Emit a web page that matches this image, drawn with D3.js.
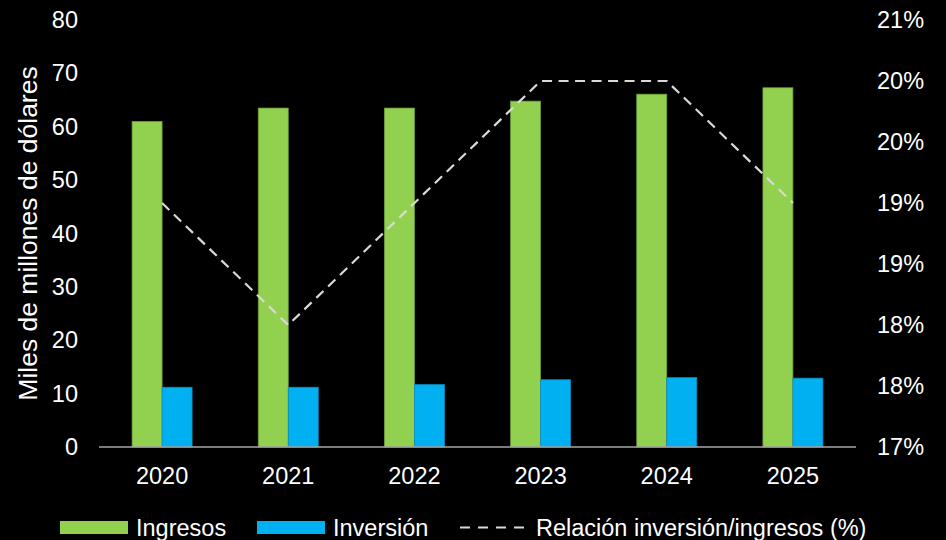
<!DOCTYPE html>
<html>
<head>
<meta charset="utf-8">
<script src="https://cdn.jsdelivr.net/npm/d3@7"></script>
<style>
  html, body { margin: 0; padding: 0; background: #000; }
  svg { display: block; }
  text { font-family: "Liberation Sans", Arial, sans-serif; fill: #fff; }
</style>
</head>
<body>
<svg id="chart" width="946" height="540"></svg>
<script>
// Annual figures, billions of dollars
const years = ["2020", "2021", "2022", "2023", "2024", "2025"];
const ingresos = [61.0, 63.5, 63.5, 64.8, 66.1, 67.3];
const inversion = [11.2, 11.2, 11.7, 12.6, 13.0, 12.9];
// Investment / revenue ratio, percent
const relacion = [19.0, 18.0, 19.0, 20.0, 20.0, 19.0];

const leftTicks = [0, 10, 20, 30, 40, 50, 60, 70, 80];
const rightTicks = [17, 17.5, 18, 18.5, 19, 19.5, 20, 20.5];

const seriesNames = ["Ingresos", "Inversión"];
const lineName = "Relación inversión/ingresos (%)";
const yTitle = "Miles de millones de dólares";

const colors = { Ingresos: "#92D050", "Inversión": "#00B0F0" };
const borders = { Ingresos: "#6E9F3A", "Inversión": "#0A8CC0" };

const svg = d3.select("#chart");
const plot = { left: 99, right: 856, top: 20, bottom: 447 };
const fs = 23.5;
const titleFs = 26.5;
const font = "Liberation Sans, Arial, sans-serif";

const x = d3.scaleBand().domain(years).range([plot.left, plot.right]).padding(0);
const groupW = 60;
const xs = d3.scaleBand().domain(seriesNames).range([0, groupW]).padding(0);
const yL = d3.scaleLinear().domain([0, 80]).range([plot.bottom, plot.top]);
const yR = d3.scaleLinear().domain([17, 20.5]).range([plot.bottom, plot.top]);

// Bars
const rows = years.map((yr, i) => ({ year: yr, Ingresos: ingresos[i], "Inversión": inversion[i] }));
const groups = svg.append("g").selectAll("g").data(rows).join("g")
  .attr("transform", d => `translate(${x(d.year) + x.bandwidth() / 2 - groupW / 2},0)`);
groups.selectAll("rect")
  .data(d => seriesNames.map(k => ({ key: k, value: d[k] })))
  .join("rect")
  .attr("x", d => xs(d.key))
  .attr("width", xs.bandwidth())
  .attr("y", d => yL(d.value))
  .attr("height", d => yL(0) - yL(d.value))
  .attr("fill", d => colors[d.key])
  .attr("stroke", d => borders[d.key])
  .attr("stroke-width", 0.75);

// Category axis line
svg.append("line")
  .attr("x1", plot.left).attr("x2", plot.right)
  .attr("y1", yL(0)).attr("y2", yL(0))
  .attr("stroke", "#a6a6a6").attr("stroke-width", 1.5);

// Ratio line on the right axis, one point per year at the band centre
const line = d3.line()
  .x((d, i) => x(years[i]) + x.bandwidth() / 2)
  .y(d => yR(d));
svg.append("path")
  .datum(relacion)
  .attr("d", line)
  .attr("fill", "none")
  .attr("stroke", "#d9d9d9")
  .attr("stroke-width", 2.2)
  .attr("stroke-dasharray", "10,6.5");

function styleLabels(g) {
  g.select(".domain").remove();
  g.selectAll("text").attr("font-size", fs).attr("fill", "#fff").attr("font-family", font);
}

// Left axis labels
const gL = svg.append("g").attr("transform", "translate(78,0)")
  .call(d3.axisLeft(yL).tickValues(leftTicks).tickSize(0).tickPadding(0));
styleLabels(gL);

// Right axis labels (whole-percent rounding)
const gR = svg.append("g").attr("transform", "translate(877,0)")
  .call(d3.axisRight(yR).tickValues(rightTicks).tickSize(0).tickPadding(0)
    .tickFormat(v => Math.round(v) + "%"));
styleLabels(gR);

// Year labels
const gX = svg.append("g").attr("transform", `translate(0,${plot.bottom})`)
  .call(d3.axisBottom(x).tickSize(0).tickPadding(0));
styleLabels(gX);
gX.selectAll("text").attr("dy", null).attr("y", 37);

// Left axis title
svg.append("text")
  .attr("transform", `translate(28,${(plot.top + plot.bottom) / 2}) rotate(-90)`)
  .attr("text-anchor", "middle")
  .attr("dominant-baseline", "central")
  .attr("font-size", titleFs)
  .text(yTitle);

// Legend
const legend = svg.append("g");
const legY = 536;
const legendItems = [
  { name: "Ingresos", x: 60, type: "rect" },
  { name: "Inversión", x: 257, type: "rect" },
  { name: lineName, x: 460, type: "line" }
];
legendItems.forEach(it => {
  if (it.type === "rect") {
    legend.append("rect")
      .attr("x", it.x).attr("y", 521).attr("width", 68).attr("height", 13)
      .attr("fill", colors[it.name]);
    legend.append("text").attr("x", it.x + 76).attr("y", legY)
      .attr("font-size", fs).text(it.name);
  } else {
    legend.append("line")
      .attr("x1", it.x).attr("x2", it.x + 66)
      .attr("y1", 527.5).attr("y2", 527.5)
      .attr("stroke", "#d9d9d9").attr("stroke-width", 2.2)
      .attr("stroke-dasharray", "10,8");
    legend.append("text").attr("x", it.x + 76).attr("y", legY)
      .attr("font-size", fs).text(it.name);
  }
});
</script>
</body>
</html>
